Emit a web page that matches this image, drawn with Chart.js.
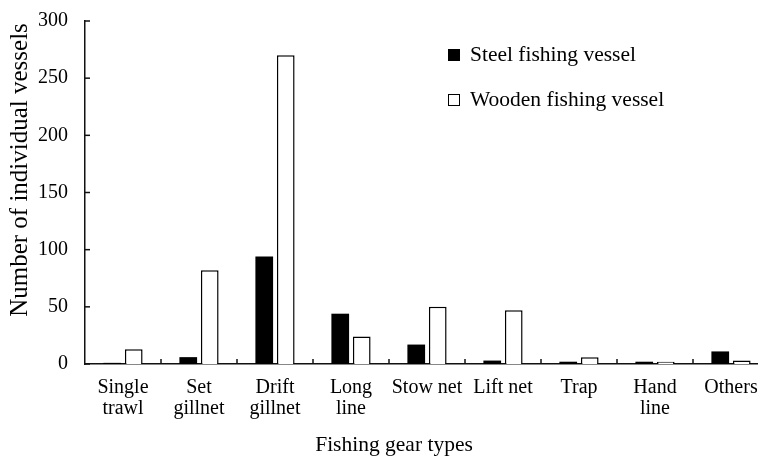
<!DOCTYPE html>
<html><head><meta charset="utf-8">
<script src="https://cdn.jsdelivr.net/npm/chart.js@4"></script>
<style>html,body{margin:0;padding:0;overflow:hidden;background:#fff}
#wrap{width:758px;height:459px;overflow:hidden;position:relative;background:#fff}
canvas{display:block}</style></head>
<body><div id="wrap"><canvas id="c" width="772" height="459"></canvas></div>
<script>
const categories = [["Single","trawl"],["Set","gillnet"],["Drift","gillnet"],["Long","line"],"Stow net","Lift net","Trap",["Hand","line"],"Others"];
const steelValues = [1, 6, 94, 44, 17, 3, 2, 2, 11];
const woodenValues = [13, 82, 270, 24, 50, 47, 6, 2, 3];
const seriesNames = ["Steel fishing vessel", "Wooden fishing vessel"];
const yTicks = [0, 50, 100, 150, 200, 250, 300];
const xTitle = "Fishing gear types";
const yTitle = "Number of individual vessels";

const FONT = "Liberation Serif";
Chart.defaults.font.family = FONT;
Chart.defaults.color = '#000';

const decor = {
  id: 'decor',
  afterDraw(chart) {
    const ctx = chart.ctx, xs = chart.scales.x, ys = chart.scales.y, a = chart.chartArea;
    ctx.save();
    ctx.strokeStyle = '#111';
    ctx.lineWidth = 1.5;
    // inward y ticks
    yTicks.forEach(v => {
      const py = ys.getPixelForValue(v);
      ctx.beginPath(); ctx.moveTo(a.left, py); ctx.lineTo(a.left + 5, py); ctx.stroke();
    });
    // inward x ticks at category boundaries
    const n = categories.length;
    for (let i = 0; i < n; i++) {
      const p0 = xs.getPixelForValue(i);
      const p1 = i + 1 < n ? xs.getPixelForValue(i + 1) : 2 * p0 - xs.getPixelForValue(i - 1);
      const px = (p0 + p1) / 2;
      ctx.beginPath(); ctx.moveTo(px, a.bottom); ctx.lineTo(px, a.bottom - 5); ctx.stroke();
    }
    // legend
    ctx.font = "21.5px '" + FONT + "'";
    ctx.textBaseline = 'middle';
    ctx.textAlign = 'left';
    ctx.fillStyle = '#000';
    ctx.fillRect(448, 49, 12, 12);
    ctx.fillText(seriesNames[0], 470, 55);
    ctx.lineWidth = 1;
    ctx.strokeStyle = '#000';
    ctx.strokeRect(448.5, 94.5, 11, 11);
    ctx.fillText(seriesNames[1], 470, 100);
    // x title
    ctx.textAlign = 'center';
    ctx.textBaseline = 'alphabetic';
    ctx.fillText(xTitle, 394, 451);
    // y title
    ctx.save();
    ctx.translate(27, 170);
    ctx.rotate(-Math.PI / 2);
    ctx.font = "25px '" + FONT + "'";
    ctx.textAlign = 'center';
    ctx.textBaseline = 'alphabetic';
    ctx.fillText(yTitle, 0, 0);
    ctx.restore();
    ctx.restore();
  }
};

new Chart(document.getElementById('c'), {
  type: 'bar',
  data: {
    labels: categories,
    datasets: [
      { label: seriesNames[0], data: steelValues, backgroundColor: '#000', borderWidth: 0,
        barPercentage: 0.823, categoryPercentage: 0.566 },
      { label: seriesNames[1], data: woodenValues, backgroundColor: '#fff', borderColor: '#000', borderWidth: 1.5,
        barPercentage: 0.823, categoryPercentage: 0.566 }
    ]
  },
  options: {
    responsive: false,
    animation: false,
    devicePixelRatio: 1,
    layout: { padding: { top: 21, right: 3, left: 0, bottom: 0 } },
    plugins: { legend: { display: false }, tooltip: { enabled: false } },
    scales: {
      x: {
        grid: { display: false, drawTicks: false },
        border: { display: true, color: '#111', width: 1.5 },
        ticks: { font: { family: FONT, size: 20, lineHeight: 1.05 }, padding: 13, maxRotation: 0, autoSkip: false, color: '#000' },
        afterFit(s) { s.height = 95; }
      },
      y: {
        min: 0, max: 300,
        grid: { display: false, drawTicks: false },
        border: { display: true, color: '#111', width: 1.5 },
        ticks: { stepSize: 50, font: { family: FONT, size: 20 }, padding: 17, color: '#000' },
        afterFit(s) { s.width = 85; s.paddingTop = 0; s.paddingBottom = 0; }
      }
    }
  },
  plugins: [decor]
});
</script>
</body></html>
